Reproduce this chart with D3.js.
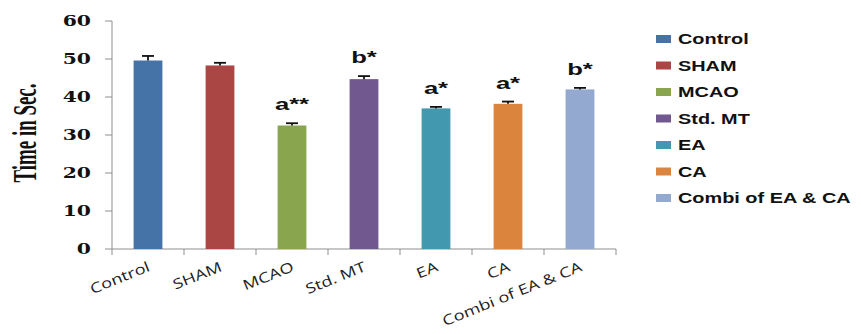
<!DOCTYPE html>
<html>
<head>
<meta charset="utf-8">
<script src="https://cdn.jsdelivr.net/npm/d3@7"></script>
<style>
  html, body { margin: 0; padding: 0; background: #fff; }
  svg { display: block; }
</style>
</head>
<body>
<div id="chart"></div>
<script>
// values
const groups = ['Control', 'SHAM', 'MCAO', 'Std. MT', 'EA', 'CA', 'Combi of EA & CA'];
const axisLabels = ['Control', 'SHAM', 'MCAO', 'Std. MT', 'EA', 'CA', 'Combi of EA & CA'];
const means = [49.6, 48.3, 32.5, 44.7, 37.0, 38.2, 42.0];
const errors = [1.2, 0.7, 0.6, 0.8, 0.4, 0.6, 0.4];
const marks = ['', '', 'a**', 'b*', 'a*', 'a*', 'b*'];
const yTicks = [0, 10, 20, 30, 40, 50, 60];
const colors = ['#4572A7', '#AA4643', '#89A54E', '#71588F', '#4198AF', '#DB843D', '#93A9CF'];

const width = 861;
const height = 334;
const plot = { left: 112, right: 616, top: 21, bottom: 249 };

const svg = d3.select('#chart')
  .append('svg')
  .attr('width', width)
  .attr('height', height);

// the source image is stretched sideways, so text is widened to match
const stretch = (sel, factor, maxLen) => {
  sel.each(function () {
    let len = this.getComputedTextLength() * factor;
    if (maxLen) len = Math.min(len, maxLen);
    d3.select(this).attr('textLength', len).attr('lengthAdjust', 'spacingAndGlyphs');
  });
};

const x = d3.scaleBand()
  .domain(groups)
  .range([plot.left, plot.right])
  .paddingInner(0.6)
  .paddingOuter(0.3);

const y = d3.scaleLinear()
  .domain([0, 60])
  .range([plot.bottom, plot.top]);

const axisColor = '#8f8f8f';

// y axis
svg.append('line')
  .attr('x1', plot.left).attr('x2', plot.left)
  .attr('y1', y(60)).attr('y2', y(0))
  .attr('stroke', axisColor);

svg.append('g')
  .selectAll('line')
  .data(yTicks)
  .join('line')
  .attr('x1', plot.left - 7).attr('x2', plot.left)
  .attr('y1', (d) => y(d)).attr('y2', (d) => y(d))
  .attr('stroke', axisColor);

svg.append('g')
  .selectAll('text')
  .data(yTicks)
  .join('text')
  .attr('x', 91)
  .attr('y', (d) => y(d))
  .attr('dy', '0.36em')
  .attr('text-anchor', 'end')
  .style('font-family', '"DejaVu Serif", serif')
  .style('font-weight', 'bold')
  .style('font-size', '14.5px')
  .attr('fill', '#111')
  .text((d) => d)
  .call(stretch, 1.4);

// x axis
const step = x.step();
svg.append('line')
  .attr('x1', plot.left).attr('x2', plot.right)
  .attr('y1', y(0)).attr('y2', y(0))
  .attr('stroke', axisColor);

svg.append('g')
  .selectAll('line')
  .data(d3.range(groups.length + 1))
  .join('line')
  .attr('x1', (i) => plot.left + i * step)
  .attr('x2', (i) => plot.left + i * step)
  .attr('y1', y(0)).attr('y2', y(0) + 6)
  .attr('stroke', axisColor);

svg.append('g')
  .selectAll('text')
  .data(groups)
  .join('text')
  .attr('transform', (d) => `translate(${x(d) + x.bandwidth() / 2 + 1},${y(0) + 17}) rotate(-22)`)
  .attr('dy', '0.35em')
  .attr('text-anchor', 'end')
  .style('font-family', '"Open Sans", sans-serif')
  .style('font-size', '14px')
  .attr('fill', '#222')
  .text((d, i) => axisLabels[i])
  .call(stretch, 1.3);

// bars
svg.append('g')
  .selectAll('rect')
  .data(groups)
  .join('rect')
  .attr('x', (d) => x(d))
  .attr('y', (d, i) => y(means[i]))
  .attr('width', x.bandwidth())
  .attr('height', (d, i) => y(0) - y(means[i]))
  .attr('fill', (d, i) => colors[i]);

// error bars (upper only)
const err = svg.append('g').attr('stroke', '#111').attr('stroke-width', 1.8);
groups.forEach((g, i) => {
  const cx = x(g) + x.bandwidth() / 2;
  err.append('line')
    .attr('x1', cx).attr('x2', cx)
    .attr('y1', y(means[i])).attr('y2', y(means[i] + errors[i]));
  err.append('line')
    .attr('x1', cx - 6).attr('x2', cx + 6)
    .attr('y1', y(means[i] + errors[i])).attr('y2', y(means[i] + errors[i]));
});

// significance marks
svg.append('g')
  .selectAll('text')
  .data(groups)
  .join('text')
  .attr('x', (d) => x(d) + x.bandwidth() / 2)
  .attr('y', (d, i) => y(means[i] + errors[i]) - 13)
  .attr('text-anchor', 'middle')
  .style('font-family', '"Liberation Sans", Arial, sans-serif')
  .style('font-weight', 'bold')
  .style('font-size', '16px')
  .attr('fill', '#111')
  .text((d, i) => marks[i])
  .filter((d, i) => marks[i] !== '')
  .call(stretch, 1.6);

// y axis title
svg.append('text')
  .attr('transform', 'translate(36,133) rotate(-90)')
  .attr('text-anchor', 'middle')
  .style('font-family', '"Liberation Serif", "Times New Roman", serif')
  .style('font-weight', 'bold')
  .style('font-size', '34px')
  .attr('fill', '#111')
  .text('Time in Sec.')
  .attr('textLength', 99)
  .attr('lengthAdjust', 'spacingAndGlyphs');

// legend
const legend = svg.append('g');
const legendRow = legend.selectAll('g')
  .data(groups)
  .join('g')
  .attr('transform', (d, i) => `translate(656,${39 + i * 26.5})`);

legendRow.append('rect')
  .attr('x', 0).attr('y', -4)
  .attr('width', 15).attr('height', 8)
  .attr('fill', (d, i) => colors[i]);

legendRow.append('text')
  .attr('x', 22)
  .attr('dy', '0.36em')
  .style('font-family', '"Liberation Sans", Arial, sans-serif')
  .style('font-weight', 'bold')
  .style('font-size', '14px')
  .attr('fill', '#111')
  .text((d) => d)
  .call(stretch, 1.42, 180);
</script>
</body>
</html>
